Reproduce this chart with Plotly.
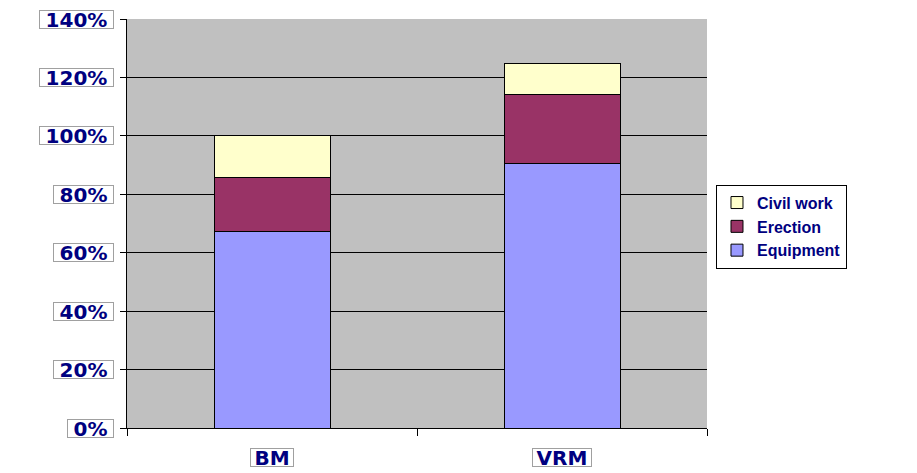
import plotly.graph_objects as go

categories = ["BM", "VRM"]
equipment = [67.3, 90.7]
erection = [18.5, 23.3]
civil_work = [14.2, 10.6]
y_ticks = [0, 20, 40, 60, 80, 100, 120, 140]
y_tick_labels = ["0%", "20%", "40%", "60%", "80%", "100%", "120%", "140%"]

NAVY = "#000080"
FONT = "DejaVu Sans"
FS = 20


def text_width(s, size):
    w = {"%": 1.002, "B": 0.762, "M": 0.995, "V": 0.774, "R": 0.770}
    return sum(w.get(ch, 0.696) for ch in s) * size


fig = go.Figure()
fig.add_trace(go.Bar(name="Equipment", x=categories, y=equipment,
                     marker=dict(color="#9999FF", line=dict(color="black", width=1))))
fig.add_trace(go.Bar(name="Erection", x=categories, y=erection,
                     marker=dict(color="#993366", line=dict(color="black", width=1))))
fig.add_trace(go.Bar(name="Civil work", x=categories, y=civil_work,
                     marker=dict(color="#FFFFCC", line=dict(color="black", width=1))))

annotations = []
for v, lab in zip(y_ticks, y_tick_labels):
    annotations.append(dict(
        x=0, xref="paper", y=v, yref="y", text="<b>%s</b>" % lab,
        xanchor="right", yanchor="middle", xshift=-13, showarrow=False,
        width=round(text_width(lab, FS) + 11), height=17, align="center", valign="middle",
        font=dict(family=FONT, size=FS, color=NAVY),
        bordercolor="#A0A0A0", borderwidth=1, borderpad=0, bgcolor="white"))
for c in categories:
    annotations.append(dict(
        x=c, xref="x", y=0, yref="paper", text="<b>%s</b>" % c,
        xanchor="center", yanchor="top", yshift=-20, showarrow=False,
        width=round(text_width(c, FS) + 7), height=17, align="center", valign="middle",
        font=dict(family=FONT, size=FS, color=NAVY),
        bordercolor="#A0A0A0", borderwidth=1, borderpad=0, bgcolor="white"))

fig.update_layout(
    width=917, height=473,
    margin=dict(l=127, r=210, t=19, b=45, pad=0),
    barmode="stack", bargap=0.6,
    plot_bgcolor="#C0C0C0", paper_bgcolor="white",
    font=dict(family=FONT, color=NAVY),
    legend=dict(
        x=1.0155, xanchor="left", y=0.595, yanchor="top",
        traceorder="reversed",
        bordercolor="black", borderwidth=1, bgcolor="white",
        font=dict(family="Liberation Sans", size=16, color=NAVY, weight="bold"),
        itemwidth=30, tracegroupgap=0,
    ),
    annotations=annotations,
    showlegend=True,
)
fig.update_yaxes(range=[0, 140], tickvals=y_ticks, showticklabels=False,
                 showgrid=True, gridcolor="black", gridwidth=1,
                 showline=True, linecolor="black", linewidth=1,
                 ticks="outside", ticklen=6, tickcolor="black", zeroline=False)
fig.update_xaxes(showticklabels=False, showline=True, linecolor="black", linewidth=1,
                 ticks="outside", ticklen=7, tickcolor="black", tickson="boundaries",
                 showgrid=False)

fig.write_html("out.html", config={"displayModeBar": False})

with open("out.html", "r", encoding="utf-8") as f:
    html = f.read()
html = html.replace("<body>", '<body style="margin:0;padding:0;overflow:hidden">', 1)
with open("out.html", "w", encoding="utf-8") as f:
    f.write(html)
